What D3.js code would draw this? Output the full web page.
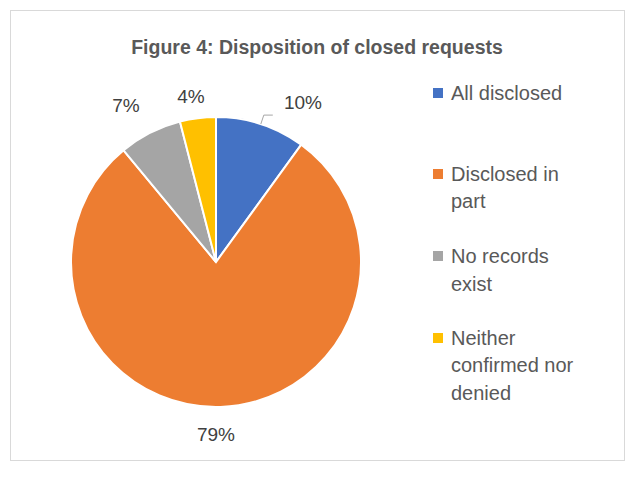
<!DOCTYPE html>
<html><head><meta charset="utf-8">
<script src="https://cdn.jsdelivr.net/npm/d3@7"></script>
<style>body{margin:0;background:#fff}</style></head>
<body><svg id="c" width="635" height="478"></svg>
<script>
const categories = ["All disclosed","Disclosed in part","No records exist","Neither confirmed nor denied"];
const values = [10,79,7,4];
const labels = ["10%","79%","7%","4%"];
const colors = ["#4472C4","#ED7D31","#A5A5A5","#FFC000"];
const legendLines = [["All disclosed"],["Disclosed in","part"],["No records","exist"],["Neither","confirmed nor","denied"]];

const svg = d3.select("#c");
const font = "Arial, 'Liberation Sans', sans-serif";
svg.append("rect").attr("x",10.5).attr("y",10.5).attr("width",614).attr("height",450)
  .attr("fill","#fff").attr("stroke","#D9D9D9");
svg.append("text").attr("x",317).attr("y",54).attr("text-anchor","middle")
  .attr("font-family",font).attr("font-size",19.5).attr("font-weight","bold").attr("fill","#595959")
  .text("Figure 4: Disposition of closed requests");

const cx=216, cy=262, r=145;
const pie = d3.pie().sort(null).value(d=>d)(values);
const arc = d3.arc().innerRadius(0).outerRadius(r);
const g = svg.append("g").attr("transform",`translate(${cx},${cy})`);
g.selectAll("path").data(pie).join("path").attr("d",arc)
  .attr("fill",(d,i)=>colors[i]).attr("stroke","#fff").attr("stroke-width",2);

const labelPos = [[303,109],[216,441],[126,112],[191,103]];
labels.forEach((t,i)=>{
  svg.append("text").attr("x",labelPos[i][0]).attr("y",labelPos[i][1]).attr("text-anchor","middle")
    .attr("font-family",font).attr("font-size",19).attr("fill","#404040").text(t);
});
// leader line for 10%
const a0 = (pie[0].startAngle+pie[0].endAngle)/2;
const px = cx + Math.sin(a0)*r, py = cy - Math.cos(a0)*r;
svg.append("polyline").attr("points",`${px},${py} ${px+3},${py-9} ${px+12},${py-9}`)
  .attr("fill","none").attr("stroke","#A6A6A6");

const legY = [[93],[174,201],[256,284],[338,365,393]];
legendLines.forEach((lines,i)=>{
  svg.append("rect").attr("x",433).attr("y",legY[i][0]-5).attr("width",10).attr("height",10).attr("fill",colors[i]);
  lines.forEach((l,j)=>{
    svg.append("text").attr("x",451).attr("y",legY[i][j]+7).attr("font-family",font)
      .attr("font-size",20).attr("fill","#595959").text(l);
  });
});
</script></body></html>
